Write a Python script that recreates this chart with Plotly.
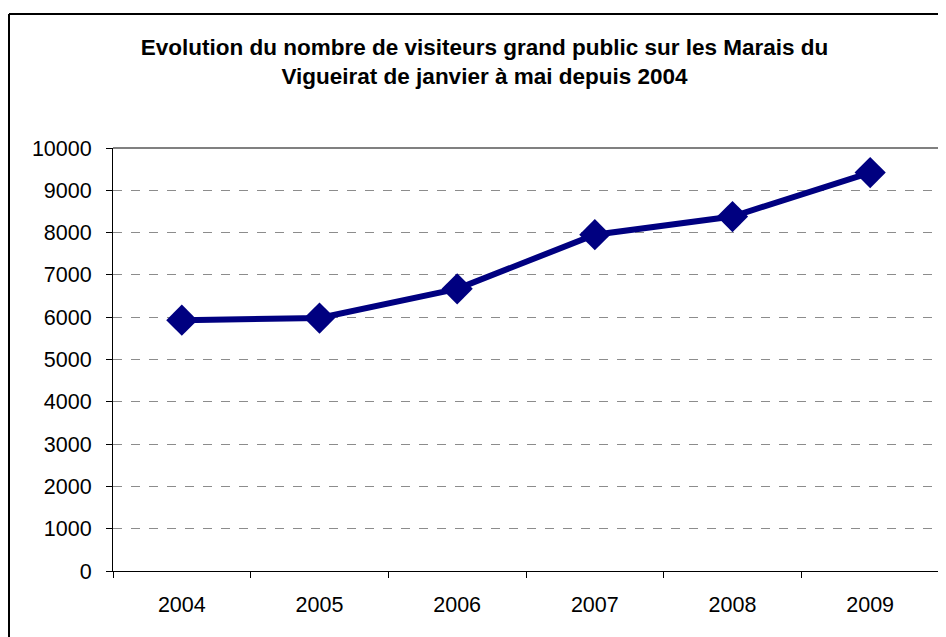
import plotly.graph_objects as go

years = ["2004", "2005", "2006", "2007", "2008", "2009"]
visitors = [5930, 5980, 6670, 7950, 8380, 9420]
y_ticks = [0, 1000, 2000, 3000, 4000, 5000, 6000, 7000, 8000, 9000, 10000]
y_tick_labels = [str(v) for v in y_ticks]
title_text = "Evolution du nombre de visiteurs grand public sur les Marais du<br>Vigueirat de janvier à mai depuis 2004"

# page body has an 8px margin; positions below are in figure pixels
W, H = 946, 637
L, R, T, B = 105, 15, 140, 74
pw = W - L - R
ph = H - T - B

def px_x(x):
    return (x - L) / pw

def px_y(y):
    return (H - B - y) / ph

fig = go.Figure()
fig.add_trace(go.Scatter(
    x=years, y=visitors, mode="lines+markers",
    line=dict(color="#000080", width=6),
    marker=dict(symbol="diamond", size=24, color="#000080"),
    cliponaxis=False,
))

font = "Liberation Sans, Arial, sans-serif"
fig.update_layout(
    width=W, height=H,
    margin=dict(l=L, r=R, t=T, b=B),
    paper_bgcolor="white", plot_bgcolor="white",
    showlegend=False,
    title=dict(text="<b>" + title_text + "</b>", x=476.5 / W, xanchor="center",
               y=1 - 47 / H, yanchor="middle",
               font=dict(family=font, size=22.5, color="black")),
    xaxis=dict(type="category", range=[-0.5, 5.5], tickson="boundaries",
               ticks="outside", ticklen=6, tickcolor="black", tickwidth=1,
               showline=True, linecolor="black", linewidth=1,
               showgrid=False, zeroline=False,
               tickfont=dict(family=font, size=21.5, color="black"),
               ticklabelstandoff=14),
    yaxis=dict(range=[0, 10000], tickvals=y_ticks, ticktext=y_tick_labels,
               ticks="outside", ticklen=6,
               tickcolor="black", tickwidth=1,
               showline=True, linecolor="black", linewidth=1,
               showgrid=True, gridcolor="#8c8c8c", griddash="dash", gridwidth=1,
               zeroline=False,
               tickfont=dict(family=font, size=21.5, color="black"),
               ticklabelstandoff=10),
)

# plot area top/right gray border
fig.add_shape(type="line", xref="paper", yref="paper", x0=0, x1=1, y0=1, y1=1,
              line=dict(color="#808080", width=2), layer="above")
fig.add_shape(type="line", xref="paper", yref="paper", x0=1, x1=1, y0=0, y1=1,
              line=dict(color="#808080", width=2), layer="above")
# outer chart border
fig.add_shape(type="line", xref="paper", yref="paper", x0=px_x(1), x1=px_x(960),
              y0=px_y(6), y1=px_y(6), line=dict(color="black", width=2))
fig.add_shape(type="line", xref="paper", yref="paper", x0=px_x(1), x1=px_x(1),
              y0=px_y(6), y1=px_y(660), line=dict(color="black", width=2))

fig.write_html("out.html")
